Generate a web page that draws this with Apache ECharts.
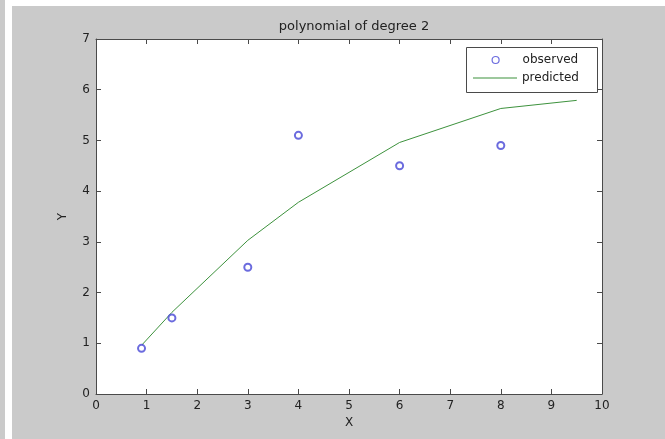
<!DOCTYPE html>
<html>
<head>
<meta charset="utf-8">
<script src="https://cdn.jsdelivr.net/npm/echarts@6/dist/echarts.min.js"></script>
<style>html,body{margin:0;padding:0;background:#cccccc}#c{width:665px;height:439px}</style>
</head>
<body>
<div id="c"></div>
<script>
const titleText = 'polynomial of degree 2';
const observedX = [0.9, 1.5, 3, 4, 6, 8];
const observedY = [0.9, 1.5, 2.5, 5.1, 4.5, 4.9];
const predictedX = [0.9, 1.5, 3, 4, 6, 8, 9.5];
const predictedY = [0.96, 1.61, 3.03, 3.78, 4.96, 5.63, 5.79];
const xTicks = [0, 1, 2, 3, 4, 5, 6, 7, 8, 9, 10];
const yTicks = [0, 1, 2, 3, 4, 5, 6, 7];

const FONT = 'DejaVu Sans';
const AX = '#4a4a4a';
const TXT = '#222222';
const BLUE = '#4646d6';
const GREEN = '#3d923d';
const chart = echarts.init(document.getElementById('c'), null, {renderer: 'canvas'});

function mkAxis(extra) {
  return Object.assign({
    type: 'value',
    axisLine: {show: true, onZero: false, lineStyle: {color: AX, width: 1}},
    axisTick: {show: true, inside: true, length: 5, lineStyle: {color: AX, width: 1}},
    splitLine: {show: false}
  }, extra);
}

chart.setOption({
  backgroundColor: '#cacaca',
  animation: false,
  title: {
    text: titleText, left: 349, top: 15, textAlign: 'center',
    textStyle: {fontFamily: FONT, fontSize: 13, fontWeight: 'normal', color: TXT}
  },
  graphic: [
    {type: 'rect', shape: {x: 5, y: 0, width: 7, height: 439}, style: {fill: '#ffffff'}, z: -1},
    {type: 'rect', shape: {x: 12, y: 0, width: 653, height: 6}, style: {fill: '#ffffff'}, z: -1},
    {type: 'rect', shape: {x: 466.5, y: 47.5, width: 131, height: 45},
      style: {fill: '#ffffff', stroke: AX, lineWidth: 1}, z: 5}
  ],
  grid: {left: 96, top: 39, right: 63, bottom: 45, show: true, backgroundColor: '#ffffff', borderWidth: 0},
  legend: [
    {
      left: 473, top: 54, orient: 'vertical', padding: 0, z: 6,
      itemWidth: 44, itemHeight: 8,
      textStyle: {fontFamily: FONT, fontSize: 12, color: TXT},
      data: [{
        name: 'observed',
        icon: 'path://M0,0 M44,8 M25.5,4 A3.5,3.5 0 1,1 18.5,4 A3.5,3.5 0 1,1 25.5,4 Z',
        itemStyle: {color: '#ffffff', borderColor: BLUE, borderWidth: 1.2}
      }]
    },
    {
      left: 473, top: 72, orient: 'vertical', padding: 0, z: 6,
      itemWidth: 44, itemHeight: 13,
      textStyle: {fontFamily: FONT, fontSize: 12, color: TXT},
      data: [{name: 'predicted', icon: 'path://M0,0 L44,0 L44,1 L0,1 Z'}]
    }
  ],
  xAxis: [
    mkAxis({
      min: 0, max: 10, interval: 1, position: 'bottom', gridIndex: 0,
      name: 'X', nameLocation: 'middle', nameGap: 21,
      nameTextStyle: {fontFamily: FONT, fontSize: 12, color: TXT},
      axisLabel: {show: true, margin: 6, fontFamily: FONT, fontSize: 12, color: TXT,
        formatter: v => xTicks.includes(v) ? String(v) : ''}
    }),
    mkAxis({
      min: 0, max: 10, interval: 1, position: 'top', gridIndex: 0,
      axisLabel: {show: false}
    })
  ],
  yAxis: [
    mkAxis({
      min: 0, max: 7, interval: 1, position: 'left', gridIndex: 0,
      name: 'Y', nameLocation: 'middle', nameGap: 27,
      nameTextStyle: {fontFamily: FONT, fontSize: 12, color: TXT},
      axisLabel: {show: true, margin: 6, fontFamily: FONT, fontSize: 12, color: TXT,
        formatter: v => yTicks.includes(v) ? String(v) : ''}
    }),
    mkAxis({
      min: 0, max: 7, interval: 1, position: 'right', gridIndex: 0,
      axisLabel: {show: false}
    })
  ],
  series: [
    {
      name: 'observed', type: 'scatter', xAxisIndex: 0, yAxisIndex: 0,
      symbol: 'emptyCircle', symbolSize: 7,
      itemStyle: {color: BLUE, borderColor: BLUE, borderWidth: 1},
      data: observedX.map((x, i) => [x, observedY[i]]), z: 3
    },
    {
      name: 'predicted', type: 'line', xAxisIndex: 0, yAxisIndex: 0,
      showSymbol: false, symbol: 'none',
      lineStyle: {color: GREEN, width: 1},
      itemStyle: {color: GREEN},
      data: predictedX.map((x, i) => [x, predictedY[i]]), z: 2
    }
  ]
});
</script>
</body>
</html>
